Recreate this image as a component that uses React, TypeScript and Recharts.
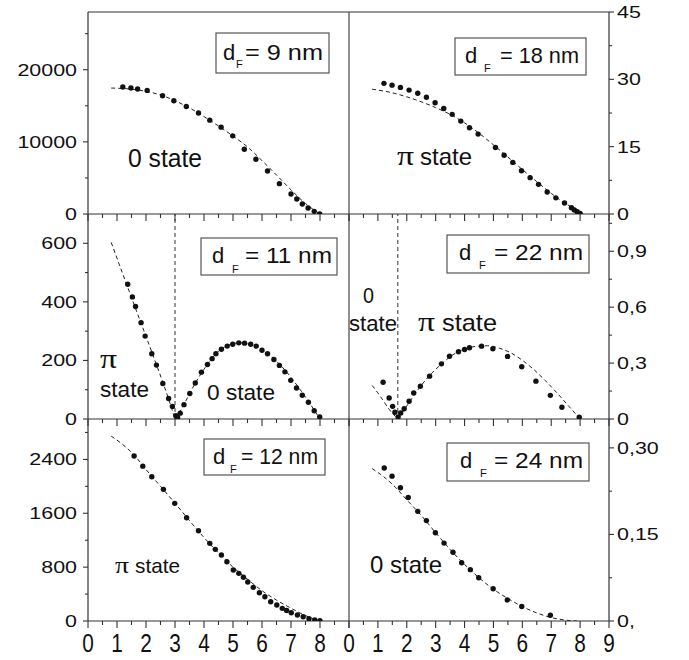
import React from 'react';
import { ComposedChart, Scatter, Line, XAxis, YAxis, ReferenceLine } from 'recharts';

const FONT = '"Liberation Sans", Arial, Helvetica, sans-serif';
const SERIF = '"Liberation Serif", "DejaVu Serif", serif';
const AXIS = '#333';

// ---------- data ----------
const xTicks = [0, 0.5, 1, 1.5, 2, 2.5, 3, 3.5, 4, 4.5, 5, 5.5, 6, 6.5, 7, 7.5, 8, 8.5, 9];

// d_F = 9 nm (0 state)
const p9X = [1.2, 1.48, 1.71, 2.04, 2.57, 2.96, 3.39, 3.81, 4.2, 4.59, 4.99, 5.39, 5.79, 6.19, 6.6, 7.0, 7.2, 7.39, 7.59, 7.8, 7.99];
const p9Y = [17600, 17460, 17320, 17130, 16390, 15700, 14900, 13990, 13010, 12040, 10830, 8980, 7590, 5970, 4210, 2780, 2080, 1390, 833, 370, 0];
const t9X = [0.8, 1.5, 2, 2.5, 3, 3.5, 4, 4.5, 5, 5.5, 6, 6.5, 7, 7.5, 8];
const t9Y = [17460, 17300, 17000, 16500, 15700, 14700, 13500, 12200, 10800, 9300, 7400, 5400, 3350, 1450, 0];

// d_F = 18 nm (pi state)
const p18X = [1.21, 1.49, 1.78, 2.08, 2.38, 2.68, 2.98, 3.28, 3.57, 3.87, 4.17, 4.47, 5.07, 5.37, 5.67, 5.97, 6.27, 6.56, 6.86, 7.16, 7.46, 7.7, 7.8, 7.9, 8.0];
const p18Y = [29.1, 28.7, 28.2, 27.6, 26.9, 26.0, 24.8, 23.5, 22.2, 20.7, 19.2, 17.8, 14.8, 13.1, 11.5, 9.65, 8.1, 6.6, 4.9, 3.6, 2.45, 1.4, 0.9, 0.5, 0.15];
const t18X = [0.8, 1.5, 2, 2.5, 3, 3.5, 4, 4.5, 5, 5.5, 6, 6.5, 7, 7.5, 8, 8.1];
const t18Y = [27.8, 27.0, 26.1, 25.0, 23.7, 22.2, 20.3, 18.0, 15.4, 12.7, 9.9, 7.2, 4.6, 2.3, 0.5, 0];

// d_F = 11 nm
const p11X = [1.37, 1.53, 1.64, 1.83, 1.97, 2.2, 2.36, 2.58, 2.78, 2.91, 3.03, 3.09, 3.18, 3.31, 3.51, 3.7, 3.91, 4.12, 4.28, 4.41, 4.6, 4.8, 4.99, 5.2, 5.4, 5.61, 5.8, 6.0, 6.19, 6.41, 6.6, 6.79, 6.99, 7.19, 7.39, 7.6, 7.8, 7.99];
const p11Y = [460, 417, 384, 329, 283, 223, 184, 121, 70, 43, 11, 5, 20, 49, 87, 123, 160, 186, 206, 223, 238, 249, 255, 260, 259, 255, 249, 235, 223, 203, 183, 161, 132, 106, 81, 57, 28, 7];
const t11aX = [0.8, 1.2, 1.6, 2.0, 2.4, 2.8, 3.0];
const t11aY = [603, 495, 388, 282, 175, 62, 0];
const t11bX = [3.0, 3.3, 3.6, 4.0, 4.4, 4.8, 5.2, 5.6, 6.0, 6.4, 6.8, 7.2, 7.6, 8.0];
const t11bY = [0, 48, 105, 170, 222, 250, 260, 255, 237, 207, 166, 116, 60, 0];

// d_F = 22 nm
const p22X = [1.18, 1.39, 1.51, 1.59, 1.7, 1.79, 1.91, 2.08, 2.24, 2.47, 2.79, 3.2, 3.48, 3.79, 4.0, 4.17, 4.59, 4.98, 5.49, 5.98, 6.47, 6.97, 7.37, 7.97];
const p22Y = [0.197, 0.113, 0.068, 0.036, 0.011, 0.032, 0.055, 0.095, 0.14, 0.176, 0.23, 0.296, 0.337, 0.361, 0.373, 0.382, 0.391, 0.377, 0.336, 0.28, 0.203, 0.127, 0.063, 0.009];
const t22aX = [0.8, 1.0, 1.2, 1.4, 1.69];
const t22aY = [0.18, 0.14, 0.095, 0.05, 0];
const t22bX = [1.69, 2.0, 2.4, 2.8, 3.2, 3.6, 4.0, 4.4, 4.8, 5.2, 5.6, 6.0, 6.4, 6.8, 7.2, 7.6, 8.0];
const t22bY = [0, 0.07, 0.16, 0.235, 0.295, 0.345, 0.375, 0.39, 0.393, 0.38, 0.355, 0.315, 0.265, 0.205, 0.14, 0.07, 0];

// d_F = 12 nm
const p12X = [1.59, 1.89, 2.2, 2.6, 2.99, 3.4, 3.81, 4.2, 4.39, 4.6, 4.79, 5.01, 5.2, 5.36, 5.51, 5.7, 5.91, 6.1, 6.3, 6.51, 6.7, 6.85, 7.01, 7.22, 7.42, 7.62, 7.82, 8.0];
const p12Y = [2450, 2300, 2142, 1955, 1747, 1534, 1340, 1153, 1064, 980, 880, 757, 708, 649, 579, 500, 420, 361, 287, 238, 188, 155, 123, 89, 64, 34, 15, 4];
const t12X = [0.8, 1.2, 1.6, 2.0, 2.5, 3.0, 3.5, 4.0, 4.5, 5.0, 5.5, 6.0, 6.5, 7.0, 7.5, 8.0];
const t12Y = [2746, 2620, 2460, 2250, 2000, 1750, 1490, 1240, 1010, 800, 620, 450, 310, 190, 80, 0];

// d_F = 24 nm
const p24X = [1.22, 1.49, 1.78, 2.05, 2.38, 2.68, 2.99, 3.29, 3.6, 3.9, 4.2, 4.49, 4.99, 5.48, 5.98, 6.97];
const p24Y = [0.265, 0.251, 0.231, 0.214, 0.19, 0.174, 0.153, 0.135, 0.119, 0.101, 0.089, 0.075, 0.056, 0.0365, 0.025, 0.01];
const t24X = [0.8, 1.2, 1.6, 2.0, 2.5, 3.0, 3.5, 4.0, 4.5, 5.0, 5.5, 6.0, 6.5, 7.0, 7.5, 7.9];
const t24Y = [0.264, 0.25, 0.232, 0.21, 0.183, 0.153, 0.124, 0.098, 0.075, 0.055, 0.039, 0.025, 0.014, 0.006, 0.0015, 0];

// y tick values & labels
const yT9 = [0, 5000, 10000, 15000, 20000, 25000];
const yL9 = ['0', '', '10000', '', '20000', ''];
const yT18 = [0, 7.5, 15, 22.5, 30, 37.5, 45];
const yL18 = ['0', '', '15', '', '30', '', '45'];
const yT11 = [0, 100, 200, 300, 400, 500, 600];
const yL11 = ['0', '', '200', '', '400', '', '600'];
const yT22 = [0, 0.15, 0.3, 0.45, 0.6, 0.75, 0.9, 1.05];
const yL22 = ['0', '', '0,3', '', '0,6', '', '0,9', ''];
const yT12 = [0, 400, 800, 1200, 1600, 2000, 2400, 2800];
const yL12 = ['0', '', '800', '', '1600', '', '2400', ''];
const yT24 = [0, 0.075, 0.15, 0.225, 0.3];
const yL24 = ['0,', '', '0,15', '', '0,30'];

const zip = (xs: number[], ys: number[]) => xs.map((x, i) => ({ x, y: ys[i] }));

// ---------- ticks ----------
const makeXTick = (labels: boolean, maxLabel: number) => (props: any) => {
  const { x, y, payload, index } = props;
  const major = index % 2 === 0;
  const v = payload.value;
  return (
    <g>
      <line x1={x} y1={y} x2={x} y2={y + (major ? 7 : 4)} stroke={AXIS} strokeWidth={1.1} />
      {labels && major && v <= maxLabel ? (
        <text transform={`translate(${x},${y + 31}) scale(0.8,1)`} textAnchor="middle" fontSize={26} fontFamily={FONT} fill="#111">
          {String(Math.round(v))}
        </text>
      ) : null}
    </g>
  );
};

const makeYTick = (side: 'left' | 'right', labels: string[]) => (props: any) => {
  const { x, y, index } = props;
  const label = labels[index] || '';
  const major = label !== '';
  const len = major ? 5 : 3;
  const s = side === 'left' ? -1 : 1;
  return (
    <g>
      <line x1={x} y1={y} x2={x + s * len} y2={y} stroke={AXIS} strokeWidth={1.1} />
      {major ? (
        <text
          transform={`translate(${side === 'left' ? x - 11 : x + 8},${y + 6}) scale(1.3,1)`}
          textAnchor={side === 'left' ? 'end' : 'start'}
          fontSize={16.5}
          fontFamily={FONT}
          fill="#111"
        >
          {label}
        </text>
      ) : null}
    </g>
  );
};

const dot = (p: any) => <circle cx={p.cx} cy={p.cy} r={2.7} fill="#111" />;

type PanelProps = {
  side: 'left' | 'right';
  top: number;
  plotH: number;
  xH: number;
  xLabels: boolean;
  maxLabel: number;
  domain: [number, number];
  yTicks: number[];
  yLabels: string[];
  pts: { x: number; y: number }[];
  lines: { x: number; y: number }[][];
  refX?: number;
  topBorder?: boolean;
};

function Panel(p: PanelProps) {
  const isLeft = p.side === 'left';
  const width = isLeft ? 352 : 349;
  const height = 12 + p.plotH + p.xH;
  return (
    <div style={{ position: 'absolute', left: isLeft ? 0 : 340, top: p.top - 12, width, height }}>
      <ComposedChart
        width={width}
        height={height}
        margin={{ top: 12, right: isLeft ? 3 : 0, left: isLeft ? 0 : 9, bottom: 0 }}
      >
        <XAxis
          type="number"
          dataKey="x"
          domain={[0, 9]}
          ticks={xTicks}
          interval={0}
          allowDataOverflow
          height={p.xH}
          tickSize={0}
          tickMargin={0}
          tickLine={false}
          axisLine={{ stroke: AXIS, strokeWidth: 1.2 }}
          tick={makeXTick(p.xLabels, p.maxLabel)}
        />
        <YAxis
          type="number"
          dataKey="y"
          orientation={p.side}
          width={isLeft ? 88 : 80}
          domain={p.domain}
          ticks={p.yTicks}
          interval={0}
          allowDataOverflow
          tickSize={0}
          tickMargin={0}
          tickLine={false}
          axisLine={{ stroke: AXIS, strokeWidth: 1.2 }}
          tick={makeYTick(p.side, p.yLabels)}
        />
        {p.topBorder ? <ReferenceLine y={p.domain[1]} stroke={AXIS} strokeWidth={1.2} /> : null}
        {!isLeft ? <ReferenceLine x={0} stroke="#444" strokeWidth={1.2} /> : null}
        {p.refX !== undefined ? (
          <ReferenceLine x={p.refX} stroke="#333" strokeWidth={1} strokeDasharray="4 3" />
        ) : null}
        {p.lines.map((d, i) => (
          <Line
            key={i}
            data={d}
            dataKey="y"
            type="monotone"
            stroke="#222"
            strokeWidth={1}
            strokeDasharray="4 3"
            dot={false}
            activeDot={false}
            isAnimationActive={false}
          />
        ))}
        <Scatter data={p.pts} dataKey="y" shape={dot} isAnimationActive={false} />
      </ComposedChart>
    </div>
  );
}

// ---------- annotations ----------
const boxes = [
  { x: 216, y: 33, w: 113, h: 40, dx: 223, db: 60, fx: 236, fb: 68, ex: 245, ew: 78, eq: '= 9 nm' },
  { x: 455, y: 38, w: 131, h: 37, dx: 465, db: 63, fx: 484, fb: 72, ex: 500, ew: 79, eq: '= 18 nm' },
  { x: 201, y: 238, w: 136, h: 37, dx: 212, db: 263, fx: 232, fb: 273, ex: 245, ew: 87, eq: '= 11 nm' },
  { x: 447, y: 235, w: 142, h: 38, dx: 459, db: 260, fx: 479, fb: 269, ex: 494, ew: 89, eq: '= 22 nm' },
  { x: 204, y: 439, w: 121, h: 36, dx: 213, db: 464, fx: 230, fb: 473, ex: 241, ew: 77, eq: '= 12 nm' },
  { x: 447, y: 443, w: 142, h: 38, dx: 460, db: 468, fx: 480, fb: 477, ex: 494, ew: 89, eq: '= 24 nm' },
];

const notes = [
  { t: '0 state', x: 128, b: 167, w: 74, s: 25, serif: false },
  { t: 'π', x: 397, b: 165, w: 17, s: 28, serif: true },
  { t: 'state', x: 420, b: 165, w: 52, s: 24, serif: false },
  { t: 'π', x: 100, b: 368, w: 17, s: 28, serif: true },
  { t: 'state', x: 100, b: 397, w: 49, s: 22, serif: false },
  { t: '0 state', x: 207, b: 400, w: 68, s: 22, serif: false },
  { t: '0', x: 363, b: 303, w: 11, s: 22, serif: false },
  { t: 'state', x: 349, b: 331, w: 48, s: 22, serif: false },
  { t: 'π', x: 418, b: 331, w: 17, s: 28, serif: true },
  { t: 'state', x: 442, b: 331, w: 55, s: 24, serif: false },
  { t: 'π', x: 115, b: 573, w: 14, s: 24, serif: true },
  { t: 'state', x: 135, b: 573, w: 45, s: 21, serif: false },
  { t: '0 state', x: 370, b: 573, w: 72, s: 24, serif: false },
];

function Overlay() {
  return (
    <svg width={689} height={660} style={{ position: 'absolute', left: 0, top: 0, pointerEvents: 'none' }}>
      {boxes.map((b, i) => (
        <g key={i}>
          <rect x={b.x} y={b.y} width={b.w} height={b.h} fill="#fff" stroke="#555" strokeWidth={1.2} />
          <text x={b.dx} y={b.db} fontSize={22} fontFamily={FONT} fill="#111">d</text>
          <text x={b.fx} y={b.fb} fontSize={11} fontFamily={FONT} fill="#111">F</text>
          <text x={b.ex} y={b.db} fontSize={22} fontFamily={FONT} fill="#111" textLength={b.ew} lengthAdjust="spacingAndGlyphs">
            {b.eq}
          </text>
        </g>
      ))}
      {notes.map((n, i) => (
        <text
          key={i}
          x={n.x}
          y={n.b}
          fontSize={n.s}
          fontFamily={n.serif ? SERIF : FONT}
          fill="#111"
          textLength={n.w}
          lengthAdjust="spacingAndGlyphs"
        >
          {n.t}
        </text>
      ))}
    </svg>
  );
}

export default function App() {
  return (
    <div style={{ position: 'absolute', left: 0, top: 0, width: 689, height: 660, background: '#fff', overflow: 'hidden' }}>
      <Panel side="left" top={12} plotH={202} xH={12} xLabels={false} maxLabel={8} domain={[0, 28000]} yTicks={yT9} yLabels={yL9}
        pts={zip(p9X, p9Y)} lines={[zip(t9X, t9Y)]} topBorder />
      <Panel side="right" top={12} plotH={202} xH={12} xLabels={false} maxLabel={9} domain={[0, 45]} yTicks={yT18} yLabels={yL18}
        pts={zip(p18X, p18Y)} lines={[zip(t18X, t18Y)]} topBorder />
      <Panel side="left" top={214} plotH={205} xH={12} xLabels={false} maxLabel={8} domain={[0, 700]} yTicks={yT11} yLabels={yL11}
        pts={zip(p11X, p11Y)} lines={[zip(t11aX, t11aY), zip(t11bX, t11bY)]} refX={3} />
      <Panel side="right" top={214} plotH={205} xH={12} xLabels={false} maxLabel={9} domain={[0, 1.1]} yTicks={yT22} yLabels={yL22}
        pts={zip(p22X, p22Y)} lines={[zip(t22aX, t22aY), zip(t22bX, t22bY)]} refX={1.69} />
      <Panel side="left" top={419} plotH={202} xH={38} xLabels maxLabel={8} domain={[0, 3000]} yTicks={yT12} yLabels={yL12}
        pts={zip(p12X, p12Y)} lines={[zip(t12X, t12Y)]} />
      <Panel side="right" top={419} plotH={202} xH={38} xLabels maxLabel={9} domain={[0, 0.35]} yTicks={yT24} yLabels={yL24}
        pts={zip(p24X, p24Y)} lines={[zip(t24X, t24Y)]} />
      <Overlay />
    </div>
  );
}
